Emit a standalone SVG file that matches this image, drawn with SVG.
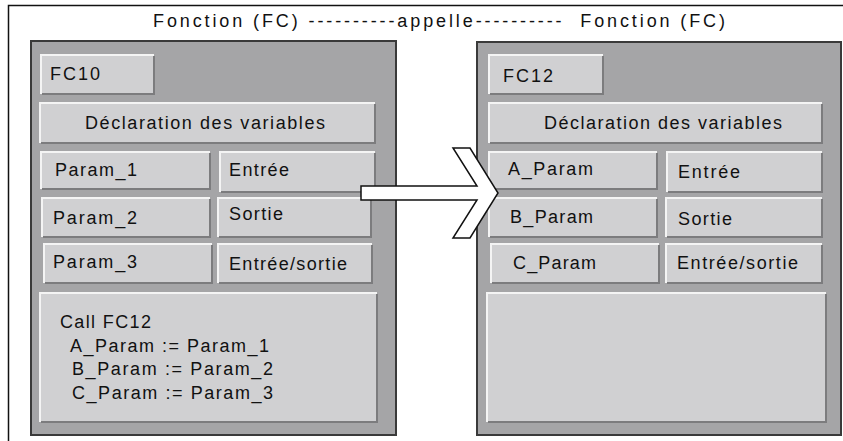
<svg xmlns="http://www.w3.org/2000/svg" width="843" height="441" viewBox="0 0 843 441">
<style>
.frame{fill:none;stroke:#111;stroke-width:1.5}
.panel{fill:#a5a5a7;stroke:#3a3a3a;stroke-width:2}
.bx{fill:#d0d0d2}
.hi{fill:none;stroke:#f4f4f4;stroke-width:2}
.sh{fill:none;stroke:#7c7c7e;stroke-width:2}
text{font-family:"Liberation Sans",Arial,sans-serif;font-size:18px;fill:#111}
.arrow{fill:#fff;stroke:#111;stroke-width:1.5;stroke-linejoin:miter}
</style>
<rect width="843" height="441" fill="#fff"/>
<path class="frame" d="M8.5,441 V5.5 H843"/>
<text x="153" y="27" textLength="572" lengthAdjust="spacing" xml:space="preserve">Fonction (FC) ----------appelle----------  Fonction (FC)</text>

<g id="fc10">
<rect class="panel" x="31" y="41" width="365" height="394"/>
<g id="fc10-name"><rect class="bx" x="41" y="55" width="113" height="39"/><path class="hi" d="M41,94V55H154"/><path class="sh" d="M42,94H154V56"/><text x="50" y="80" textLength="50">FC10</text></g>
<g id="fc10-decl"><rect class="bx" x="40" y="103" width="335" height="40"/><path class="hi" d="M40,143V103H375"/><path class="sh" d="M41,143H375V104"/><text x="85" y="129" textLength="240">Déclaration des variables</text></g>
<g id="fc10-p1"><rect class="bx" x="41" y="152" width="169" height="37"/><path class="hi" d="M41,189V152H210"/><path class="sh" d="M42,189H210V153"/><text x="55" y="176" textLength="82">Param_1</text></g>
<g id="fc10-t1"><rect class="bx" x="220" y="152" width="155" height="40"/><path class="hi" d="M220,192V152H375"/><path class="sh" d="M221,192H375V153"/><text x="229" y="176" textLength="60">Entrée</text></g>
<g id="fc10-p2"><rect class="bx" x="42" y="198" width="168" height="39"/><path class="hi" d="M42,237V198H210"/><path class="sh" d="M43,237H210V199"/><text x="53" y="224" textLength="84">Param_2</text></g>
<g id="fc10-t2"><rect class="bx" x="218" y="198" width="153" height="39"/><path class="hi" d="M218,237V198H371"/><path class="sh" d="M219,237H371V199"/><text x="229" y="220" textLength="54">Sortie</text></g>
<g id="fc10-p3"><rect class="bx" x="44" y="244" width="168" height="39"/><path class="hi" d="M44,283V244H212"/><path class="sh" d="M45,283H212V245"/><text x="53" y="268" textLength="84">Param_3</text></g>
<g id="fc10-t3"><rect class="bx" x="218" y="244" width="154" height="39"/><path class="hi" d="M218,283V244H372"/><path class="sh" d="M219,283H372V245"/><text x="229" y="270" textLength="118">Entrée/sortie</text></g>
<g id="fc10-call"><rect class="bx" x="40" y="293" width="337" height="129"/><path class="hi" d="M40,422V293H377"/><path class="sh" d="M41,422H377V294"/>
<text x="60" y="328" textLength="91">Call FC12</text>
<text x="70" y="352" textLength="199">A_Param := Param_1</text>
<text x="72" y="375" textLength="201">B_Param := Param_2</text>
<text x="72" y="399" textLength="201">C_Param := Param_3</text></g>
</g>

<g id="fc12">
<rect class="panel" x="477" y="42" width="364" height="393"/>
<g id="fc12-name"><rect class="bx" x="489" y="55" width="114" height="39"/><path class="hi" d="M489,94V55H603"/><path class="sh" d="M490,94H603V56"/><text x="503" y="82" textLength="50">FC12</text></g>
<g id="fc12-decl"><rect class="bx" x="489" y="103" width="333" height="40"/><path class="hi" d="M489,143V103H822"/><path class="sh" d="M490,143H822V104"/><text x="544" y="129" textLength="238">Déclaration des variables</text></g>
<g id="fc12-p1"><rect class="bx" x="489" y="152" width="168" height="37"/><path class="hi" d="M489,189V152H657"/><path class="sh" d="M490,189H657V153"/><text x="508" y="175" textLength="85">A_Param</text></g>
<g id="fc12-t1"><rect class="bx" x="667" y="152" width="155" height="40"/><path class="hi" d="M667,192V152H822"/><path class="sh" d="M668,192H822V153"/><text x="678" y="178" textLength="62">Entrée</text></g>
<g id="fc12-p2"><rect class="bx" x="489" y="198" width="168" height="39"/><path class="hi" d="M489,237V198H657"/><path class="sh" d="M490,237H657V199"/><text x="510" y="223" textLength="83">B_Param</text></g>
<g id="fc12-t2"><rect class="bx" x="666" y="198" width="156" height="39"/><path class="hi" d="M666,237V198H822"/><path class="sh" d="M667,237H822V199"/><text x="678" y="225" textLength="54">Sortie</text></g>
<g id="fc12-p3"><rect class="bx" x="491" y="244" width="168" height="39"/><path class="hi" d="M491,283V244H659"/><path class="sh" d="M492,283H659V245"/><text x="513" y="269" textLength="83">C_Param</text></g>
<g id="fc12-t3"><rect class="bx" x="666" y="244" width="156" height="39"/><path class="hi" d="M666,283V244H822"/><path class="sh" d="M667,283H822V245"/><text x="677" y="269" textLength="121">Entrée/sortie</text></g>
<g id="fc12-body"><rect class="bx" x="487" y="293" width="339" height="129"/><path class="hi" d="M487,422V293H826"/><path class="sh" d="M488,422H826V294"/></g>
</g>

<g id="connectors">
<polygon class="arrow" points="361,186 477,186 453,148 470,148 498,193 470,238 453,238 477,200 361,200"/>
</g>
</svg>
